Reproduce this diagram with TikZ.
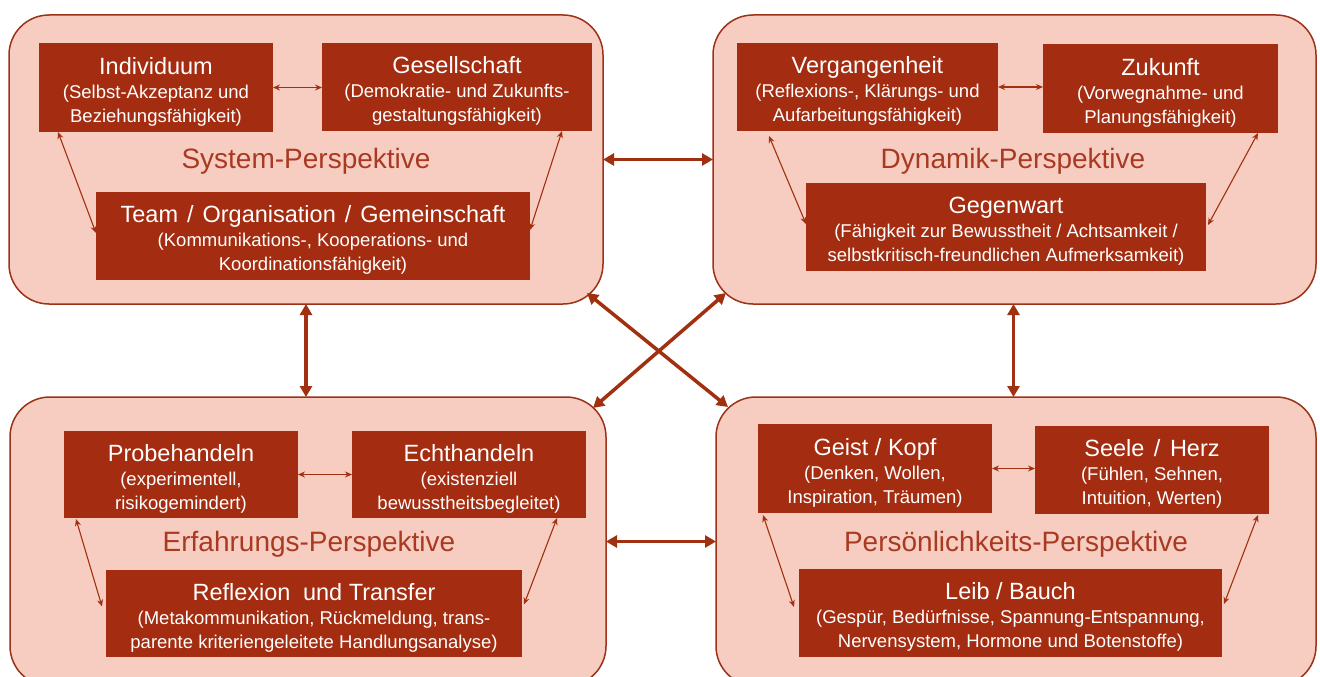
\documentclass[tikz,border=0pt]{standalone}
\usepackage{fontspec}
\setmainfont{Liberation Sans}
\usetikzlibrary{arrows.meta,calc}

\definecolor{boxred}{HTML}{A42C10}
\definecolor{panelfill}{HTML}{F8CDC1}
\definecolor{panelline}{HTML}{9C3218}
\definecolor{headred}{HTML}{A83A22}
\definecolor{arrowred}{HTML}{A0300F}

% heading line of a box; the strut keeps the text block a little lower
\newcommand\boxtitle[1]{{\fontsize{23.5}{24}\selectfont\rule{0pt}{25pt}#1}}

\tikzset{
  panel/.style={draw=panelline, line width=1.5pt, fill=panelfill,
    rounded corners=40pt, inner sep=0pt, outer sep=0pt,
    minimum width=#1, minimum height=289pt},
  topic/.style={fill=boxred, text=white, inner sep=0pt, outer sep=0pt,
    align=center, font={\fontsize{18.5}{24}\selectfont}},
  viewname/.style={text=headred, anchor=base, inner sep=0pt,
    font={\fontsize{28}{30}\selectfont}},
  bigarrow/.style={draw=arrowred, line width=3.5pt,
    arrows={Triangle[length=11pt,width=12pt]-Triangle[length=11pt,width=12pt]}},
  smallarrow/.style={draw=arrowred, line width=1.1pt,
    arrows={Stealth[length=7pt,width=6pt]-Stealth[length=7pt,width=6pt]}}
}

\begin{document}
\begin{tikzpicture}[x=1pt, y=-1pt]
  \clip (0,0) rectangle (1320,677);
  \fill[white] (0,0) rectangle (1320,677);

  % the four perspective panels
  \node[panel=594pt] (p1) at (306,159.5) {};
  \node[panel=603pt] (p2) at (1014.5,159.5) {};
  \node[panel=596pt] (p3) at (308,541.5) {};
  \node[panel=600pt] (p4) at (1016,541.5) {};

  % System-Perspektive
  \node[topic, minimum width=234pt, minimum height=89pt] (ind) at (156,87.5)
    {\boxtitle{Individuum}\\(Selbst-Akzeptanz und\\Beziehungsfähigkeit)};
  \node[topic, minimum width=270pt, minimum height=88pt] (ges) at (457,87)
    {\boxtitle{Gesellschaft}\\(Demokratie- und Zukunfts-\\gestaltungsfähigkeit)};
  \node[topic, minimum width=434pt, minimum height=88pt] (team) at (313,236)
    {\boxtitle{Team\hspace{9pt}/\hspace{9pt}Organisation\hspace{9pt}/\hspace{9pt}Gemeinschaft}\\(Kommunikations-, Kooperations- und\\Koordinationsfähigkeit)};
  \node[viewname] (sysname) at (306,168) {System-Perspektive};

  % Dynamik-Perspektive
  \node[topic, minimum width=261pt, minimum height=88pt] (verg) at (867.5,87)
    {\boxtitle{Vergangenheit}\\(Reflexions-, Klärungs- und\\Aufarbeitungsfähigkeit)};
  \node[topic, minimum width=235pt, minimum height=89pt] (zuk) at (1160.5,88.5)
    {\boxtitle{Zukunft}\\(Vorwegnahme- und\\Planungsfähigkeit)};
  \node[topic, minimum width=400pt, minimum height=88pt] (gegw) at (1006,227)
    {\boxtitle{Gegenwart}\\(Fähigkeit zur Bewusstheit / Achtsamkeit /\\selbstkritisch-freundlichen Aufmerksamkeit)};
  \node[viewname] (dynname) at (1013,168) {Dynamik-Perspektive};

  % Erfahrungs-Perspektive
  \node[topic, minimum width=234pt, minimum height=87pt] (probe) at (181,474.5)
    {\boxtitle{Probehandeln}\\(experimentell,\\risikogemindert)};
  \node[topic, minimum width=234pt, minimum height=87pt] (echt) at (469,474.5)
    {\boxtitle{Echthandeln}\\(existenziell\\bewusstheitsbegleitet)};
  \node[topic, minimum width=416pt, minimum height=87pt] (refl) at (314,613.5)
    {\boxtitle{Reflexion\hspace{6pt} und Transfer}\\(Metakommunikation, Rückmeldung, trans-\\parente kriteriengeleitete Handlungsanalyse)};
  \node[viewname] (erfname) at (309,551) {Erfahrungs-Perspektive};

  % Persoenlichkeits-Perspektive
  \node[topic, minimum width=234pt, minimum height=89pt] (geist) at (875,468.5)
    {\boxtitle{Geist / Kopf}\\(Denken, Wollen,\\Inspiration, Träumen)};
  \node[topic, minimum width=234pt, minimum height=88pt] (seele) at (1152,470)
    {\boxtitle{Seele\hspace{3pt} /\hspace{3pt} Herz}\\(Fühlen, Sehnen,\\Intuition, Werten)};
  \node[topic, minimum width=423pt, minimum height=88pt] (leib) at (1010.5,613)
    {\boxtitle{Leib / Bauch}\\(Gespür, Bedürfnisse, Spannung-Entspannung,\\Nervensystem, Hormone und Botenstoffe)};
  \node[viewname] (persname) at (1016,551) {Persönlichkeits-Perspektive};

  % links inside the panels
  \draw[smallarrow] (ind.east) -- (ind.east -| ges.west);
  \draw[smallarrow] ([xshift=19pt]ind.south west) -- ([yshift=3pt]team.west);
  \draw[smallarrow] ([xshift=-30pt]ges.south east) -- ([yshift=6pt]team.east);

  \draw[smallarrow] (verg.east) -- (verg.east -| zuk.west);
  \draw[smallarrow] ([xshift=32pt,yshift=-5pt]verg.south west) -- ([yshift=3pt]gegw.west);
  \draw[smallarrow] ([xshift=-20pt]zuk.south east) -- ([xshift=2pt,yshift=2pt]gegw.east);

  \draw[smallarrow] (probe.east) -- (probe.east -| echt.west);
  \draw[smallarrow] ([xshift=12pt,yshift=-1pt]probe.south west) -- ([xshift=-4pt,yshift=7pt]refl.west);
  \draw[smallarrow] ([xshift=-29pt]echt.south east) -- ([xshift=2pt,yshift=9pt]refl.east);

  \draw[smallarrow] (geist.east) -- (geist.east -| seele.west);
  \draw[smallarrow] ([xshift=5pt,yshift=-2pt]geist.south west) -- ([xshift=-5pt,yshift=6pt]leib.west);
  \draw[smallarrow] ([xshift=-11pt,yshift=-1pt]seele.south east) -- ([xshift=2pt,yshift=9pt]leib.east);

  % links between the panels
  \draw[bigarrow] (p1.east) -- (p1.east -| p2.west);
  \draw[bigarrow] (p3.east) -- (p3.east -| p4.west);
  \draw[bigarrow] (p1.south) -- (p1.south |- p3.north);
  \draw[bigarrow] ([xshift=-1pt]p2.south) -- ([xshift=-1pt]p2.south |- p4.north);
  \draw[bigarrow] ($(p1.south east)+(-16,-11)$) -- ($(p4.north west)+(12,10)$);
  \draw[bigarrow] ($(p2.south west)+(13,-11)$) -- ($(p3.north east)+(-13,11)$);
\end{tikzpicture}
\end{document}
